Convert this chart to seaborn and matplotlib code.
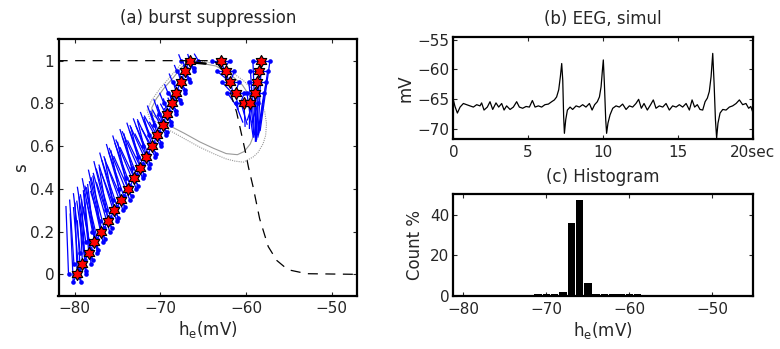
import numpy as np
import pandas as pd
import matplotlib
matplotlib.use("Agg")
import matplotlib.pyplot as plt
from matplotlib.path import Path
from matplotlib.collections import LineCollection
import seaborn as sns

# ---------------- data ----------------
# (a) phase plane: red star positions (h_e in mV, s)
left_h = [-79.73, -79.10, -78.36, -77.70, -76.93, -76.11, -75.37, -74.59, -73.81, -73.07,
          -72.33, -71.62, -70.97, -70.34, -69.72, -69.17, -68.59, -68.12, -67.58, -67.07, -66.57]
left_s = [0.00, 0.05, 0.10, 0.15, 0.20, 0.25, 0.30, 0.35, 0.40, 0.45,
          0.50, 0.55, 0.60, 0.65, 0.70, 0.75, 0.80, 0.85, 0.90, 0.95, 1.00]
right_h = [-62.91, -62.36, -61.81, -61.19, -60.22, -59.56, -58.89, -58.66, -58.47, -58.19]
right_s = [1.00, 0.95, 0.90, 0.85, 0.80, 0.80, 0.85, 0.90, 0.95, 1.00]

# blue fan on left branch: upward reach (s) and leftward reach (mV) of the lines
left_fan_up = [0.32, 0.30, 0.28, 0.26, 0.25, 0.24, 0.23, 0.22, 0.21, 0.20, 0.18,
               0.16, 0.13, 0.11, 0.09, 0.07, 0.05, 0.04, 0.04, 0.03, 0.03]
left_fan_left = [0.3, 0.5, 0.8, 1.0, 1.2, 1.3, 1.4, 1.5, 1.5, 1.5, 1.4,
                 1.3, 1.2, 1.0, 0.8, 0.6, 0.5, 0.4, 0.4, 0.3, 0.3]
# blue fan on right branch: lower end of the lines
right_fan_h = [-62.5, -61.9, -61.4, -60.9, -60.1, -59.6, -58.9, -58.8, -58.75, -58.6]
right_fan_s = [0.95, 0.89, 0.83, 0.77, 0.69, 0.68, 0.62, 0.62, 0.63, 0.64]

# dashed nullcline
null_h = [-82.0, -64.0, -63.4, -62.5, -61.9, -61.1, -60.6, -60.1, -59.7, -59.17,
          -58.4, -57.4, -56.4, -55.5, -54.9, -52.9, -47.0]
null_s = [1.0, 1.0, 0.99, 0.94, 0.86, 0.76, 0.67, 0.58, 0.50, 0.41,
          0.26, 0.13, 0.065, 0.035, 0.02, 0.003, 0.0]

# limit cycles (outer dotted, inner solid)
outer_h = [-66.95, -65.5, -63.4, -61.8, -60.3, -59.1, -58.4, -57.8, -57.6, -57.7, -58.0, -58.6,
           -59.17, -60.3, -61.3, -62.3, -63.8, -65.4, -67.2, -68.9, -70.07, -71.24, -71.55,
           -71.04, -70.07, -68.9, -67.73, -66.95]
outer_s = [0.997, 1.0, 0.985, 0.95, 0.907, 0.86, 0.813, 0.76, 0.705, 0.65, 0.611, 0.57,
           0.549, 0.525, 0.53, 0.54, 0.565, 0.595, 0.635, 0.673, 0.705, 0.728, 0.767,
           0.813, 0.868, 0.922, 0.977, 0.997]
inner_h = [-66.9, -65.5, -63.5, -61.8, -60.4, -59.5, -59.0, -58.8, -59.0, -59.5, -60.2, -61.0,
           -62.3, -63.8, -65.4, -67.2, -68.9, -70.0, -70.9, -71.0, -70.5, -69.6, -68.5, -67.5, -66.9]
inner_s = [0.99, 0.99, 0.975, 0.935, 0.885, 0.83, 0.77, 0.71, 0.66, 0.61, 0.575, 0.56,
           0.565, 0.59, 0.62, 0.66, 0.695, 0.72, 0.745, 0.78, 0.82, 0.87, 0.92, 0.97, 0.99]
arrow_h = [-64.4, -67.6]
arrow_s = [0.985, 0.997]

# (b) EEG trace
eeg_t = [0.00, 0.11, 0.27, 0.45, 0.67, 0.89, 1.11, 1.34, 1.56, 1.78, 1.89, 2.05, 2.27, 2.45,
         2.63, 2.85, 3.03, 3.23, 3.39, 3.56, 3.79, 4.01, 4.23, 4.41, 4.63, 4.86, 5.08, 5.28,
         5.46, 5.68, 5.90, 6.12, 6.35, 6.57, 6.75, 6.90, 7.04, 7.15, 7.24, 7.31, 7.37, 7.42,
         7.51, 7.62, 7.80, 7.97, 8.20, 8.42, 8.64, 8.86, 9.09, 9.27, 9.44, 9.62, 9.76, 9.87,
         9.96, 10.02, 10.09, 10.18, 10.24, 10.33, 10.47, 10.65, 10.87, 11.09, 11.31, 11.54,
         11.76, 11.98, 12.20, 12.38, 12.56, 12.74, 12.96, 13.18, 13.36, 13.54, 13.76, 13.99,
         14.21, 14.43, 14.65, 14.88, 15.10, 15.32, 15.55, 15.77, 15.95, 16.12, 16.30, 16.48,
         16.66, 16.82, 16.97, 17.10, 17.22, 17.33, 17.42, 17.51, 17.59, 17.68, 17.82, 18.00,
         18.22, 18.44, 18.66, 18.89, 19.11, 19.33, 19.55, 19.73, 19.87, 20.00]
eeg_v = [-65.1, -66.2, -67.3, -66.3, -65.7, -65.9, -66.1, -66.3, -65.9, -66.1, -65.6, -66.8,
         -66.3, -65.4, -66.7, -65.6, -66.3, -65.7, -66.8, -66.1, -66.7, -66.3, -65.4, -66.3,
         -66.5, -66.2, -66.3, -65.2, -66.3, -66.1, -66.3, -65.9, -65.8, -65.4, -65.1, -64.6,
         -63.4, -61.2, -59.0, -61.8, -67.9, -70.7, -68.4, -66.8, -66.3, -66.7, -66.1, -66.3,
         -65.9, -66.3, -65.7, -66.8, -65.9, -65.4, -64.6, -62.9, -60.1, -58.4, -62.3, -68.4,
         -70.7, -69.0, -67.6, -66.5, -66.1, -66.3, -65.8, -66.7, -66.1, -66.3, -65.7, -65.0,
         -66.5, -65.7, -66.8, -65.9, -65.1, -66.5, -66.1, -66.3, -65.7, -66.8, -66.1, -66.3,
         -65.9, -66.3, -65.7, -66.8, -65.1, -66.3, -65.9, -66.7, -66.8, -65.4, -64.8, -63.7,
         -61.2, -57.3, -62.3, -68.4, -71.5, -69.0, -67.3, -66.7, -66.8, -66.3, -66.1, -65.7,
         -65.1, -65.9, -65.7, -66.5, -66.2, -67.1]

# (c) histogram (bin centres in mV, percent)
hist_h = [-72, -71, -70, -69, -68, -67, -66, -65, -64, -63, -62, -61, -60, -59]
hist_pct = [0.8, 1.0, 1.1, 1.2, 2.1, 36.0, 47.2, 6.6, 1.3, 1.1, 1.0, 1.0, 1.1, 1.0]

# ---------------- style ----------------
sns.set_theme(style="ticks")
plt.rcParams.update({
    "font.family": ["DejaVu Sans"],
    "font.size": 11,
    "axes.linewidth": 1.6,
    "axes.edgecolor": "black",
    "xtick.direction": "in",
    "ytick.direction": "in",
    "xtick.top": True,
    "ytick.right": True,
    "xtick.major.size": 3,
    "ytick.major.size": 3,
    "xtick.major.width": 0.8,
    "ytick.major.width": 0.8,
    "xtick.labelsize": 11,
    "ytick.labelsize": 11,
    "xtick.major.pad": 4,
    "ytick.major.pad": 3,
})

fig = plt.figure(figsize=(7.8, 3.49), dpi=100)
ax_a = fig.add_axes([0.075, 0.1527, 0.383, 0.7347])
ax_b = fig.add_axes([0.5812, 0.6009, 0.3838, 0.294])
ax_c = fig.add_axes([0.5812, 0.151, 0.3838, 0.2923])

# ---------------- (a) ----------------
ax = ax_a
ax.plot(outer_h, outer_s, color="0.6", lw=0.8, ls=(0, (1, 1)), zorder=1)
ax.plot(inner_h, inner_s, color="0.6", lw=0.8, zorder=1)

segs, dots = [], []
base_off = [(-1.0, 0.0), (1.0, 0.0), (-0.45, -0.035), (0.45, -0.035), (0.0, 0.0)]
reach = [(1.0, 1.0), (1.6, 1.1), (1.2, 1.0), (1.4, 0.9), (0.8, 1.05)]
for h, s, up, lf in zip(left_h, left_s, left_fan_up, left_fan_left):
    for (dh, ds), (kl, ku) in zip(base_off, reach):
        bh, bs = h + dh, s + ds
        segs.append([(bh, bs), (bh - lf * kl, bs + up * ku)])
        if dh != 0.0:
            dots.append((bh, bs))
    segs.append([(h, s), (h - 0.45, s - 0.035)])
    segs.append([(h, s), (h + 0.45, s - 0.035)])
for h, s, eh, es in zip(right_h, right_s, right_fan_h, right_fan_s):
    segs.append([(h - 1.0, s), (eh - 0.25, es + 0.02)])
    segs.append([(h, s), (eh, es)])
    segs.append([(h + 1.0, s), (eh + 0.25, es + 0.03)])
    segs.append([(h - 1.0, s), (h + 1.0, s)])
    dots.append((h - 1.0, s))
    dots.append((h + 1.0, s))
ax.add_collection(LineCollection(segs, colors="#0000ff", linewidths=0.9, zorder=2))
dots = pd.DataFrame(dots, columns=["h", "s"])
sns.scatterplot(data=dots, x="h", y="s", color="#0000ff", s=11, linewidth=0, ax=ax, zorder=3)

ax.plot(null_h, null_s, color="black", lw=0.9, ls=(0, (8, 6)), zorder=4)
ax.annotate("", xy=(arrow_h[1], arrow_s[1]), xytext=(arrow_h[0], arrow_s[0]),
            arrowprops=dict(arrowstyle="-|>", color="black", lw=1.8, mutation_scale=9),
            zorder=4)

star = Path.unit_regular_star(6, 0.58)
stars = pd.DataFrame({"h": left_h + right_h, "s": left_s + right_s})
sns.scatterplot(data=stars, x="h", y="s", marker=star, s=75, color="red",
                edgecolor="black", linewidth=0.8, ax=ax, zorder=5)

ax.set_xlim(-81.9, -47.0)
ax.set_ylim(-0.1, 1.1)
ax.set_xticks([-80, -70, -60, -50])
ax.set_yticks([0, 0.2, 0.4, 0.6, 0.8, 1.0])
ax.set_yticklabels(["0", "0.2", "0.4", "0.6", "0.8", "1"])
ax.set_xlabel(r"h$_\mathrm{e}$(mV)", fontsize=12, labelpad=2)
ax.set_ylabel("s", fontsize=12, labelpad=0)
ax.set_title("(a) burst suppression", fontsize=12, pad=12)

# ---------------- (b) ----------------
ax = ax_b
sns.lineplot(x=eeg_t, y=eeg_v, color="black", lw=0.9, ax=ax)
ax.set_xlim(0, 20)
ax.set_ylim(-71.7, -54.5)
ax.set_xticks([0, 5, 10, 15, 20])
ax.set_xticklabels(["0", "5", "10", "15", "20sec"])
ax.set_yticks([-70, -65, -60, -55])
ax.set_ylabel("mV", fontsize=12, labelpad=2)
ax.set_title("(b) EEG, simul", fontsize=12, pad=9)

# ---------------- (c) ----------------
ax = ax_c
sns.histplot(x=hist_h, weights=hist_pct, binwidth=1, binrange=(-72.5, -58.5),
             shrink=0.9, color="black", alpha=1, edgecolor="black", linewidth=0, ax=ax)
ax.set_xlim(-81.2, -45.15)
ax.set_ylim(0, 50)
ax.set_xticks([-80, -70, -60, -50])
ax.set_yticks([0, 20, 40])
ax.set_xlabel(r"h$_\mathrm{e}$(mV)", fontsize=12, labelpad=2)
ax.set_ylabel("Count %", fontsize=12, labelpad=4)
ax.set_title("(c) Histogram", fontsize=12, pad=9)

for a in (ax_a, ax_b, ax_c):
    for sp in a.spines.values():
        sp.set_visible(True)
        sp.set_linewidth(1.6)

fig.savefig("out.png", dpi=100)
